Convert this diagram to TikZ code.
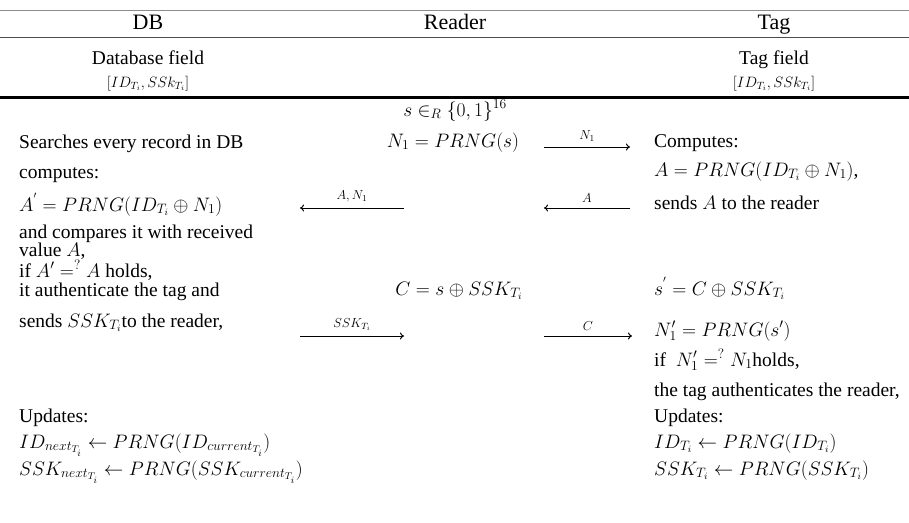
\RequirePackage{fix-cm}
\documentclass[tikz,border=0pt]{standalone}
\usepackage{fontspec}
\setmainfont{Liberation Serif}
\usepackage{tikz}
\usetikzlibrary{arrows.meta}
\definecolor{rulegray}{HTML}{8C8C8C}
\definecolor{ruledark}{HTML}{4D4D4D}
\tikzset{
  colhead/.style={anchor=base,inner sep=0pt,font=\fontsize{22}{26}\selectfont},
  field/.style  ={anchor=base,inner sep=0pt,font=\fontsize{19.5}{23}\selectfont},
  keys/.style   ={anchor=base,inner sep=0pt,font=\fontsize{15}{17}\selectfont},
  rdr/.style    ={anchor=base,inner sep=0pt,font=\fontsize{19.5}{23}\selectfont},
  txt/.style    ={anchor=base west,inner sep=0pt,font=\fontsize{19.5}{23}\selectfont},
  msg/.style    ={-{To[length=4pt,width=7pt]},line width=1pt,draw=black},
  msglbl/.style ={above=5pt,inner sep=0pt,font=\fontsize{13}{15}\selectfont},
  toprule/.style={draw=rulegray,line width=0.8pt},
  midrule/.style={draw=ruledark,line width=1pt},
  botrule/.style={draw=black,line width=3pt}
}

\begin{document}
\begin{tikzpicture}[x=1pt,y=-1pt]
    \useasboundingbox (0,0) rectangle (909,522);
    % header rows
    \draw[toprule] (0,10) -- (909,10);
    \node[colhead] (hdb) at (148,29) {DB};
    \node[colhead] (hrd) at (455,29) {Reader};
    \node[colhead] (htg) at (774,29) {Tag};
    \draw[midrule] (0,37) -- (909,37);
    \node[field] (fdb) at (148,64) {Database field};
    \node[keys] (kdb) at (148,87) {$[ID_{T_i},SSk_{T_i}]$};
    \node[field] (ftg) at (774,64) {Tag field};
    \node[keys] (ktg) at (774,87) {$[ID_{T_i},SSk_{T_i}]$};
    \draw[botrule] (0,97) -- (909,97);
    % reader
    \node[rdr] (rs) at (455,116) {$s\in_R\{0,1\}^{16}$};
    \node[rdr] (rn) at (453,147) {$N_1 = PRNG(s)$};
    \node[rdr] (rc) at (459,295) {$C = s\oplus SSK_{T_i}$};
    % database
    \node[txt] (d1) at (19,148) {Searches every record in DB};
    \node[txt] (d2) at (19,178) {computes:};
    \node[txt] (d3) at (19,211) {$A^{'} = PRNG\bigl(ID_{T_i}\oplus N_1\bigr)$};
    \node[txt] (d4) at (19,238) {and compares it with received};
    \node[txt] (d5) at (19,256) {value $A$,};
    \node[txt] (d6) at (19,277) {if $A' =^{?} A$ holds,};
    \node[txt] (d7) at (19,296) {it authenticate the tag and};
    \node[txt] (d8) at (19,327) {sends $SSK_{T_i}$to the reader,};
    \node[txt] (d9) at (19,422) {Updates:};
    \node[txt] (d10) at (19,448) {$ID_{next_{T_i}}\leftarrow PRNG(ID_{current_{T_i}})$};
    \node[txt] (d11) at (19,475) {$SSK_{next_{T_i}}\leftarrow PRNG(SSK_{current_{T_i}})$};
    % tag
    \node[txt] (t1) at (654,147) {Computes:};
    \node[txt] (t2) at (654,176) {$A = PRNG\bigl(ID_{T_i}\oplus N_1\bigr)$,};
    \node[txt] (t3) at (654,209) {sends $A$ to the reader};
    \node[txt] (t4) at (654,295) {$s^{'} = C\oplus SSK_{T_i}$};
    \node[txt] (t5) at (654,336) {$N_1' = PRNG(s')$};
    \node[txt] (t6) at (654,366) {if\ \ $N_1' =^{?} N_1$holds,};
    \node[txt] (t7) at (654,396) {the tag authenticates the reader,};
    \node[txt] (t8) at (654,422) {Updates:};
    \node[txt] (t9) at (654,448) {$ID_{T_i}\leftarrow PRNG\bigl(ID_{T_i}\bigr)$};
    \node[txt] (t10) at (654,475) {$SSK_{T_i}\leftarrow PRNG\bigl(SSK_{T_i}\bigr)$};
    % message ends
    \coordinate (n1a) at (544,147);
    \coordinate (n1b) at (630,147);
    \coordinate (aa) at (630,208);
    \coordinate (ab) at (544,208);
    \coordinate (ana) at (404,208);
    \coordinate (anb) at (300,208);
    \coordinate (ska) at (300,336);
    \coordinate (skb) at (404,336);
    \coordinate (ca) at (544,336);
    \coordinate (cb) at (632,336);
    \draw[msg] (n1a) -- node[msglbl] (ln1) {$N_1$} (n1b);
    \draw[msg] (aa) -- node[msglbl] (la) {$A$} (ab);
    \draw[msg] (ana) -- node[msglbl] (lan) {$A, N_1$} (anb);
    \draw[msg] (ska) -- node[msglbl] (lsk) {$SSK_{T_i}$} (skb);
    \draw[msg] (ca) -- node[msglbl] (lc) {$C$} (cb);
  \end{tikzpicture}
\end{document}
